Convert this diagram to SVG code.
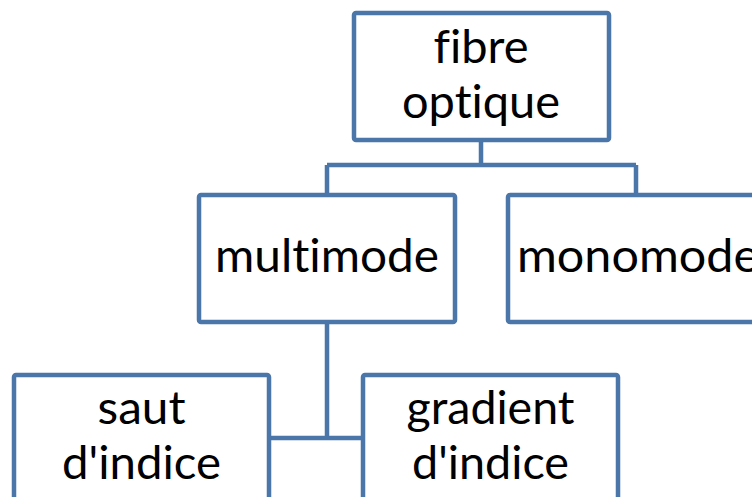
<svg xmlns="http://www.w3.org/2000/svg" width="752" height="497" viewBox="0 0 752 497">
<style>
.box{fill:#ffffff;stroke:#4A76AA;stroke-width:4.5;stroke-linejoin:round}
.con{fill:none;stroke:#4A76AA;stroke-width:4.5}
text{font-family:Lato,"Open Sans","Liberation Sans",sans-serif;font-size:46px;fill:#000000;font-variant-ligatures:none;font-feature-settings:"liga" 0,"clig" 0}
.m{text-anchor:middle}
</style>
<rect x="0" y="0" width="752" height="497" fill="#ffffff"/>
<g id="connectors">
<path class="con" d="M481,140 V165 M327,165 H636 M327,165 V195 M636,165 V195"/>
<path class="con" d="M327,322 V438 M269,438 H363"/>
</g>
<g id="fibre-optique">
<rect class="box" x="354" y="13" width="255" height="127" rx="2"/>
<text class="m" x="481" y="63" textLength="95" lengthAdjust="spacingAndGlyphs">fibre</text>
<text class="m" x="481" y="118" textLength="158" lengthAdjust="spacingAndGlyphs">optique</text>
</g>
<g id="multimode">
<rect class="box" x="199" y="195" width="256" height="127" rx="2"/>
<text class="m" x="327" y="272" textLength="224" lengthAdjust="spacingAndGlyphs">multimode</text>
</g>
<g id="monomode">
<rect class="box" x="508" y="195" width="260" height="127" rx="2"/>
<text x="517" y="272" textLength="242" lengthAdjust="spacingAndGlyphs">monomode</text>
</g>
<g id="saut-indice">
<rect class="box" x="14" y="375" width="255" height="140" rx="2"/>
<text class="m" x="141.5" y="424" textLength="88" lengthAdjust="spacingAndGlyphs">saut</text>
<text class="m" x="141.5" y="479" textLength="159" lengthAdjust="spacingAndGlyphs">d'indice</text>
</g>
<g id="gradient-indice">
<rect class="box" x="363" y="375" width="255" height="140" rx="2"/>
<text class="m" x="490.5" y="424" textLength="168" lengthAdjust="spacingAndGlyphs">gradient</text>
<text class="m" x="490.5" y="479" textLength="157" lengthAdjust="spacingAndGlyphs">d'indice</text>
</g>
</svg>
